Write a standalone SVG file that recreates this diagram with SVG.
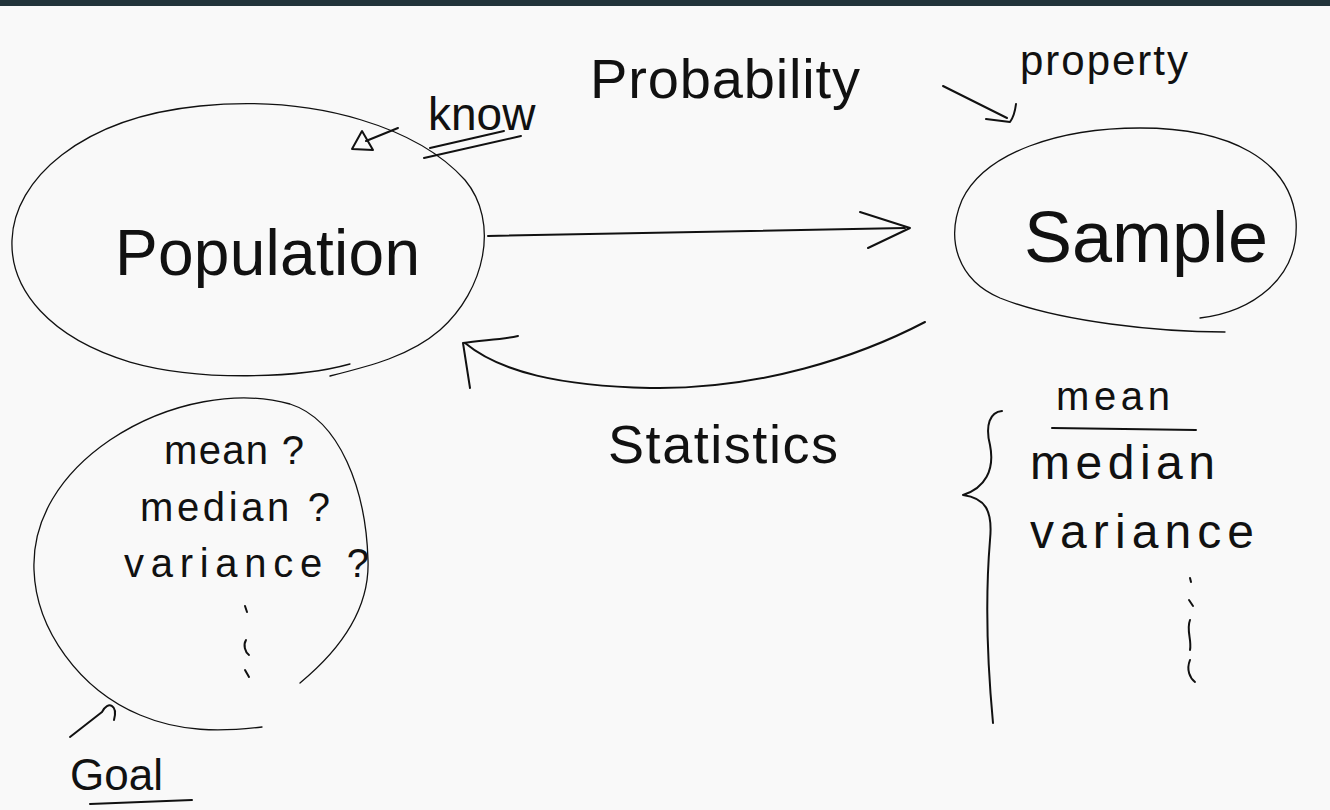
<svg xmlns="http://www.w3.org/2000/svg" width="1330" height="810" viewBox="0 0 1330 810">
<defs>
<style>
.bg{fill:#f9f9f9}
.bar{fill:#22343a}
.ink{fill:none;stroke:#111;stroke-linecap:round;stroke-linejoin:round}
.thin{stroke-width:1.3}
.mid{stroke-width:2}
.hand{font-family:"Liberation Sans","DejaVu Sans",sans-serif;fill:#111}
</style>
</defs>
<rect class="bg" x="0" y="0" width="1330" height="810"/>
<rect class="bar" x="0" y="0" width="1330" height="6"/>

<g id="population">
<path class="ink thin" d="M350,364 C300,378 200,382 130,362 C50,338 10,290 12,240 C14,180 80,118 200,106 C320,94 420,130 465,180 C500,222 485,290 440,330 C410,356 370,366 330,376"/>
<text class="hand" x="115" y="275" font-size="64" textLength="305" lengthAdjust="spacing">Population</text>
</g>

<g id="sample">
<path class="ink thin" d="M1225,332 C1160,332 1060,322 1000,298 C958,280 945,240 962,200 C985,152 1060,128 1140,128 C1230,128 1290,160 1296,220 C1300,280 1250,312 1200,318"/>
<text class="hand" x="1024" y="262" font-size="72">Sample</text>
</g>

<g id="goals">
<path class="ink thin" d="M300,683 C340,650 370,610 368,560 C366,490 340,420 290,404 C240,390 170,400 110,440 C60,474 32,520 34,570 C36,630 80,690 140,715 C180,732 220,732 262,727"/>
<text class="hand" x="164" y="464" font-size="40" textLength="140" lengthAdjust="spacing">mean ?</text>
<text class="hand" x="140" y="521" font-size="40" textLength="190" lengthAdjust="spacing">median ?</text>
<text class="hand" x="124" y="577" font-size="40" textLength="245" lengthAdjust="spacing">variance ?</text>
<path class="ink mid" d="M245,606 L247,612 M246,640 C243,645 245,652 249,655 M245,670 L249,677"/>
</g>

<g id="sample-stats">
<text class="hand" x="1056" y="410" font-size="40" textLength="114" lengthAdjust="spacing">mean</text>
<path class="ink mid" d="M1052,428 L1196,430"/>
<text class="hand" x="1030" y="479" font-size="48" textLength="185" lengthAdjust="spacing">median</text>
<text class="hand" x="1030" y="548" font-size="48" textLength="224" lengthAdjust="spacing">variance</text>
<path class="ink mid" d="M1190,578 L1191,582 M1189,600 L1193,606 M1190,620 C1186,630 1192,640 1190,650 M1190,660 C1186,670 1190,678 1195,682"/>
<path class="ink mid" d="M1002,411 C990,412 985,425 990,445 C995,470 985,488 963,495 C985,498 993,510 990,540 C985,600 988,670 993,723"/>
</g>

<g id="labels">
<text class="hand" x="590" y="98" font-size="56" textLength="270" lengthAdjust="spacing">Probability</text>
<text class="hand" x="428" y="130" font-size="46">know</text>
<path class="ink mid" d="M430,148 L504,131 M424,158 L521,136"/>
<text class="hand" x="1020" y="75" font-size="42" textLength="168" lengthAdjust="spacing">property</text>
<text class="hand" x="608" y="463" font-size="54" textLength="230" lengthAdjust="spacing">Statistics</text>
<text class="hand" x="70" y="790" font-size="44">Goal</text>
<path class="ink mid" d="M90,804 L192,800"/>
</g>

<g id="connectors">
<path class="ink mid" d="M488,236 L905,228"/>
<path class="ink mid" d="M860,212 L910,228 L868,248"/>
<path class="ink mid" d="M925,322 C860,356 760,390 650,388 C560,386 500,372 465,343"/>
<path class="ink mid" d="M518,336 C500,340 480,340 463,343 L470,388"/>
<path class="ink mid" d="M398,128 L366,141"/>
<path class="ink mid" d="M352,149 L373,150 L362,131 Z"/>
<path class="ink mid" d="M943,86 L1007,118"/>
<path class="ink mid" d="M1016,104 C1015,112 1013,118 1010,122 L986,119"/>
<path class="ink mid" d="M70,737 L102,712 C108,700 118,705 114,720"/>
</g>
</svg>
